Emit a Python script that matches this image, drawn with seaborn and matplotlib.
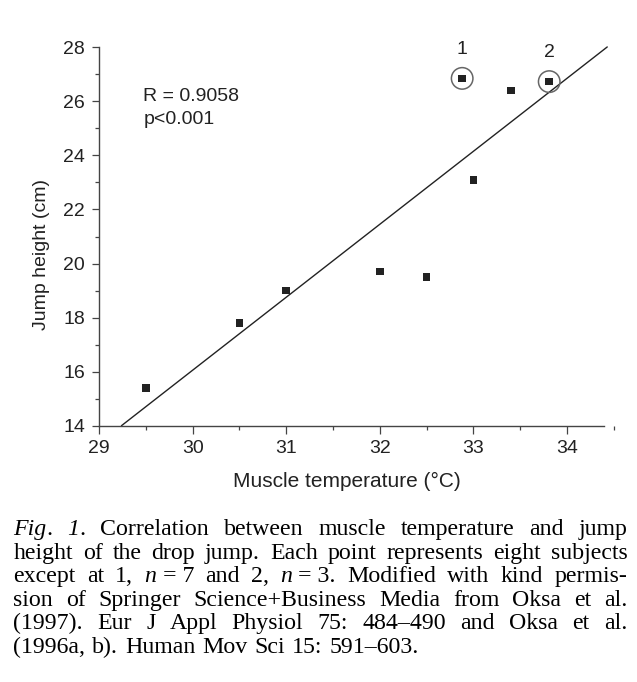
import numpy as np
import pandas as pd
import matplotlib
matplotlib.use("Agg")
import matplotlib.pyplot as plt
import seaborn as sns
from matplotlib.ticker import MultipleLocator, FixedLocator

# ---------------- data ----------------
temperature = [29.5, 30.5, 31.0, 32.0, 32.5, 33.0, 33.4, 32.88, 33.81]
jump_height = [15.4, 17.8, 19.0, 19.7, 19.5, 23.1, 26.4, 26.85, 26.73]
highlight_labels = ["", "", "", "", "", "", "", "1", "2"]

fit_slope = 2.70
fit_intercept = -64.948
fit_x_range = [29.24, 34.43]

x_ticks = [29, 30, 31, 32, 33, 34]
y_ticks = [14, 16, 18, 20, 22, 24, 26, 28]
stats_text = ["R = 0.9058", "p<0.001"]
x_label = "Muscle temperature (°C)"
y_label = "Jump height (cm)"

caption_lines = [
    [[("Fig", "i"), (".", "n")], [("1", "i"), (".", "n")], "Correlation", "between",
     "muscle", "temperature", "and", "jump"],
    "height of the drop jump. Each point represents eight subjects".split(),
    ["except", "at", "1,", [("n", "i"), (" = 7", "n")], "and", "2,",
     [("n", "i"), (" = 3.", "n")], "Modified", "with", "kind", "permis-"],
    "sion of Springer Science+Business Media from Oksa et al.".split(),
    "(1997). Eur J Appl Physiol 75: 484\u2013490 and Oksa et al.".split(),
    "(1996a, b). Human Mov Sci 15: 591\u2013603.".split(),
]

df = pd.DataFrame({"temp": temperature, "height": jump_height, "label": highlight_labels})
hl = df[df["label"] != ""]

# ---------------- figure ----------------
sns.set_style("ticks")
plt.rcParams["font.family"] = ["Liberation Sans", "DejaVu Sans"]
W, H = 637, 682
fig = plt.figure(figsize=(W / 100, H / 100), dpi=100)
ax = fig.add_axes([99 / W, 1 - 425.7 / H, (613.8 - 99) / W, (425.7 - 47.3) / H])

ink = "#222222"
spine_c = "#444444"

sns.scatterplot(data=df, x="temp", y="height", marker="s", s=30, color=ink,
                edgecolor="none", ax=ax, zorder=3, clip_on=False)
sns.scatterplot(data=hl, x="temp", y="height", marker="o", s=240, facecolor="none",
                edgecolor="#666666", linewidth=1.1, ax=ax, zorder=3, clip_on=False)
for _, r in hl.iterrows():
    ax.annotate(r["label"], (r["temp"], r["height"]), xytext=(0, 21),
                textcoords="offset points", ha="center", va="center",
                fontsize=14, color=ink, annotation_clip=False)

fx = np.array(fit_x_range)
sns.lineplot(x=fx, y=fit_slope * fx + fit_intercept, color=ink, linewidth=1.0,
             ax=ax, clip_on=False, zorder=2)

ax.set_xlim(29, 34.5)
ax.set_ylim(14, 28)
ax.set_xticks(x_ticks)
ax.set_yticks(y_ticks)
ax.xaxis.set_minor_locator(FixedLocator([29.5, 30.5, 31.5, 32.5, 33.5, 34.5]))
ax.yaxis.set_minor_locator(MultipleLocator(1))
for s in ["top", "right"]:
    ax.spines[s].set_visible(False)
for s in ["left", "bottom"]:
    ax.spines[s].set_color(spine_c)
    ax.spines[s].set_linewidth(1.0)
ax.spines["bottom"].set_bounds(29, 34.4)
ax.tick_params(which="major", direction="out", length=5.4, width=0.9, color=spine_c,
               labelsize=14, labelcolor=ink, pad=5)
ax.tick_params(which="minor", direction="out", length=3.2, width=0.9, color=spine_c)
ax.tick_params(axis="y", which="major", pad=4.5)

ax.set_xlabel(x_label, fontsize=15, color=ink)
ax.set_ylabel(y_label, fontsize=14, color=ink)
ax.xaxis.set_label_coords((347 - 99) / (613.8 - 99), (425.7 - 472) / (425.7 - 47.3))
ax.yaxis.set_label_coords((50 - 99) / (613.8 - 99), (425.7 - 254) / (425.7 - 47.3))

for i, t in enumerate(stats_text):
    fig.text(143.3 / W, 1 - (100.7 + 22.8 * i) / H, t, fontsize=14, color=ink,
             ha="left", va="baseline")

# ---------------- caption (justified) ----------------
serif = ["Liberation Serif", "DejaVu Serif"]
cap_fs = 17.2
left_px, right_px = 13.3, 627.3
base0, lstep = 535.0, 23.6
renderer = fig.canvas.get_renderer()

def make_runs(word):
    if isinstance(word, str):
        return [(word, "n")]
    return word

sp = fig.text(0, 0, "a a", fontsize=cap_fs, family=serif)
sp2 = fig.text(0, 0, "aa", fontsize=cap_fs, family=serif)
space_w = sp.get_window_extent(renderer).width - sp2.get_window_extent(renderer).width
sp.remove(); sp2.remove()

for li, line in enumerate(caption_lines):
    yb = 1 - (base0 + lstep * li) / H
    words = []
    for w in line:
        runs = []
        for txt, st in make_runs(w):
            t = fig.text(0, yb, txt, fontsize=cap_fs, family=serif, color="black",
                         style="italic" if st == "i" else "normal",
                         ha="left", va="baseline")
            bb = t.get_window_extent(renderer)
            runs.append((t, bb.width))
        words.append(runs)
    widths = [sum(wd for _, wd in runs) for runs in words]
    if li < len(caption_lines) - 1:
        gap = (right_px - left_px - sum(widths)) / (len(words) - 1)
    else:
        gap = space_w * 1.15
    x = left_px
    for runs in words:
        for t, wd in runs:
            t.set_x(x / W)
            x += wd
        x += gap

fig.savefig("out.png", dpi=100)
